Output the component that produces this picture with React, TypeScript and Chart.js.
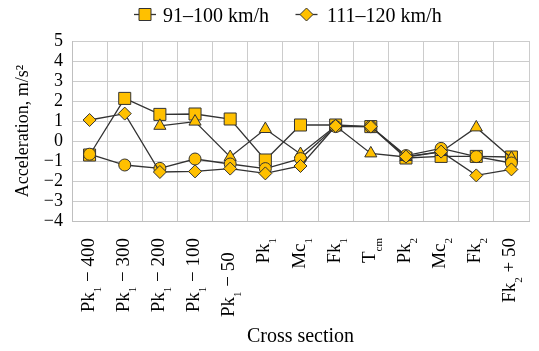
import React, { useEffect, useRef } from 'react';
import { Chart, registerables } from 'chart.js';

Chart.register(...registerables);

// Category labels: "_x" marks a subscript
const categories = [
  'Pk_1 − 400',
  'Pk_1 − 300',
  'Pk_1 − 200',
  'Pk_1 − 100',
  'Pk_1 − 50   ',
  'Pk_1',
  'Mc_1',
  'Fk_1',
  'T_cm',
  'Pk_2',
  'Mc_2',
  'Fk_2',
  'Fk_2 + 50',
];

const speed91to100 = [-0.7, 2.13, 1.33, 1.35, 1.1, -0.95, 0.8, 0.8, 0.72, -0.85, -0.77, -0.77, -0.8];
const speed111to120 = [1.05, 1.37, -1.55, -1.52, -1.38, -1.62, -1.25, 0.75, 0.72, -0.78, -0.53, -1.72, -1.42];
const seriesTriangle = [null, null, 0.76, 0.97, -0.8, 0.6, -0.65, 0.75, -0.62, -0.8, -0.55, 0.68, -0.85];
const seriesCircle = [-0.66, -1.2, -1.37, -0.9, -1.15, -1.38, -0.88, 0.72, 0.72, -0.73, -0.37, -0.78, -1.1];

const legendLabels = ['91–100 km/h', '111–120 km/h'];
const yMin = -4;
const yMax = 5;
const xTitle = 'Cross section';
const yTitle = 'Acceleration, m/s²';

const FONT = '"Liberation Serif", "Times New Roman", serif';
const FILL = '#FFC000';
const EDGE = '#333333';

const subscriptLabels = {
  id: 'subscriptLabels',
  afterDraw(chart: any) {
    const ctx = chart.ctx as CanvasRenderingContext2D;
    const xs = chart.scales.x;
    const top = chart.chartArea.bottom + 17;
    const mainSize = 19;
    const subSize = 11;
    ctx.save();
    ctx.fillStyle = '#000';
    ctx.textBaseline = 'alphabetic';
    ctx.textAlign = 'left';
    categories.forEach((lab, i) => {
      const parts = lab.split(/_(\S+)/);
      let total = 0;
      const widths: number[] = [];
      parts.forEach((p, k) => {
        ctx.font = `${k % 2 ? subSize : mainSize}px ${FONT}`;
        const w = ctx.measureText(p).width;
        widths.push(w);
        total += w;
      });
      const x = xs.getPixelForTick(i);
      ctx.save();
      ctx.translate(x, top);
      ctx.rotate(-Math.PI / 2);
      let cx = -total;
      parts.forEach((p, k) => {
        const sub = k % 2 === 1;
        ctx.font = `${sub ? subSize : mainSize}px ${FONT}`;
        ctx.fillText(p, cx, sub ? 11 : 4);
        cx += widths[k];
      });
      ctx.restore();
    });
    ctx.restore();
  },
};

const customLegend = {
  id: 'customLegend',
  afterDraw(chart: any) {
    const ctx = chart.ctx as CanvasRenderingContext2D;
    const y = 14.5;
    const items = [
      { cx: 145, tx: 163, shape: 'square', text: legendLabels[0] },
      { cx: 306.5, tx: 327, shape: 'diamond', text: legendLabels[1] },
    ];
    ctx.save();
    items.forEach((it) => {
      ctx.strokeStyle = EDGE;
      ctx.lineWidth = 1.3;
      ctx.beginPath();
      ctx.moveTo(it.cx - 11, y);
      ctx.lineTo(it.cx + 11, y);
      ctx.stroke();
      ctx.fillStyle = FILL;
      ctx.lineWidth = 1;
      ctx.beginPath();
      if (it.shape === 'square') {
        ctx.rect(it.cx - 6, y - 6, 12, 12);
      } else {
        ctx.moveTo(it.cx, y - 6.5);
        ctx.lineTo(it.cx + 6.5, y);
        ctx.lineTo(it.cx, y + 6.5);
        ctx.lineTo(it.cx - 6.5, y);
        ctx.closePath();
      }
      ctx.fill();
      ctx.stroke();
      ctx.fillStyle = '#000';
      ctx.font = `20px ${FONT}`;
      ctx.textBaseline = 'alphabetic';
      ctx.textAlign = 'left';
      ctx.fillText(it.text, it.tx, y + 7);
    });
    ctx.restore();
  },
};

function makeSet(label: string, data: (number | null)[], style: string, radius: number, order: number) {
  return {
    label,
    data,
    borderColor: EDGE,
    borderWidth: 1.3,
    backgroundColor: FILL,
    pointStyle: style,
    pointRadius: radius,
    pointHoverRadius: radius,
    pointBackgroundColor: FILL,
    pointBorderColor: EDGE,
    pointBorderWidth: 1,
    tension: 0,
    fill: false,
    order,
  };
}

export default function App() {
  const ref = useRef<HTMLCanvasElement>(null);

  useEffect(() => {
    if (!ref.current) return;
    const chart = new Chart(ref.current, {
      type: 'line',
      data: {
        labels: categories,
        datasets: [
          makeSet(legendLabels[0], speed91to100, 'rect', 8.5, 4),
          makeSet(legendLabels[1], speed111to120, 'rectRot', 6.5, 1),
          makeSet('triangle', seriesTriangle, 'triangle', 7, 3),
          makeSet('circle', seriesCircle, 'circle', 6, 2),
        ],
      },
      options: {
        responsive: false,
        animation: false,
        events: [],
        layout: { padding: { left: 0, top: 41, right: 10, bottom: 0 } },
        plugins: {
          legend: { display: false },
          tooltip: { enabled: false },
        },
        scales: {
          x: {
            type: 'category',
            offset: true,
            grid: { color: '#cccccc', lineWidth: 1, offset: true, drawTicks: false },
            border: { color: '#bfbfbf' },
            ticks: { display: false },
            title: {
              display: true,
              text: xTitle,
              color: '#000',
              font: { family: FONT, size: 20 },
              padding: { top: 0, bottom: 2 },
            },
            afterFit(scale: any) {
              scale.height = 130;
            },
          },
          y: {
            min: yMin,
            max: yMax,
            grid: { color: '#cccccc', lineWidth: 1, drawTicks: false },
            border: { color: '#bfbfbf' },
            ticks: {
              stepSize: 1,
              autoSkip: false,
              padding: 9,
              color: '#000',
              font: { family: FONT, size: 18, lineHeight: 1 },
              callback: (v: any) => (Number(v) < 0 ? '−' + Math.abs(Number(v)) : String(v)),
            },
            title: {
              display: true,
              text: yTitle,
              color: '#000',
              font: { family: FONT, size: 18 },
              padding: { top: 12, bottom: 0 },
            },
            afterFit(scale: any) {
              scale.width = 72;
            },
          },
        },
      },
      plugins: [subscriptLabels, customLegend],
    });
    return () => chart.destroy();
  }, []);

  return (
    <div style={{ position: 'fixed', left: 0, top: 0, width: 539, height: 351, background: '#fff' }}>
      <canvas ref={ref} width={539} height={351} />
    </div>
  );
}
